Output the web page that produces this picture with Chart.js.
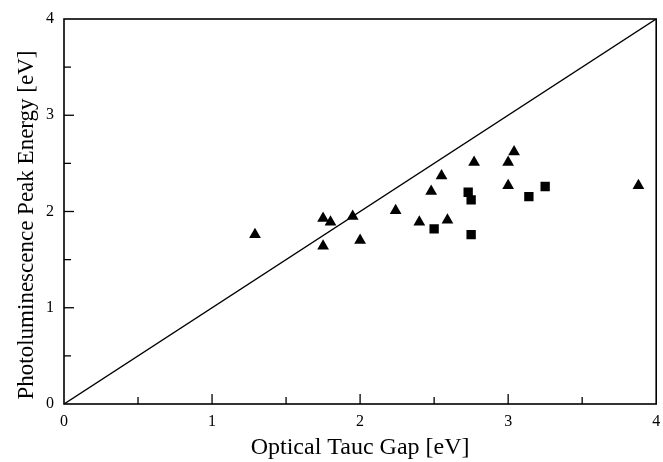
<!DOCTYPE html>
<html lang="en">
<head>
  <meta charset="UTF-8" />
  <title>PL Peak Energy vs Tauc Gap</title>
  <script src="https://cdn.jsdelivr.net/npm/chart.js"></script>
  <style>
    html, body { margin: 0; padding: 0; background: #fff; }
    #wrap { width: 663px; height: 462px; }
  </style>
</head>
<body>
<div id="wrap"><canvas id="plChart" width="663" height="462"></canvas></div>
<script>
  // triangles
  const triGap = [1.29, 1.75, 1.80, 1.75, 1.95, 2.00, 2.24, 2.40, 2.48, 2.55, 2.59, 2.77, 3.04, 3.00, 3.00, 3.88];
  const triPL  = [1.76, 1.93, 1.89, 1.64, 1.95, 1.70, 2.01, 1.89, 2.21, 2.37, 1.91, 2.51, 2.62, 2.51, 2.27, 2.27];
  // squares
  const sqGap = [2.50, 2.73, 2.75, 2.75, 3.14, 3.25];
  const sqPL  = [1.82, 2.20, 2.12, 1.76, 2.155, 2.26];
  // y = x reference line
  const lineX = [0, 4];
  const lineY = [0, 4];
  const axisMin = 0, axisMax = 4;
  const xTitle = "Optical Tauc Gap [eV]";
  const yTitle = "Photoluminescence Peak Energy [eV]";

  const serif = "'Liberation Serif', 'DejaVu Serif', serif";

  const toPts = (xs, ys) => xs.map((x, i) => ({ x: x, y: ys[i] }));

  // inward ticks every 0.5 on bottom and left axes, frame, y title
  const inwardTicks = {
    id: "inwardTicks",
    afterDraw(chart) {
      const { ctx, chartArea, scales } = chart;
      ctx.save();
      ctx.strokeStyle = "#000";
      ctx.lineWidth = 1.3;
      for (let v = 0.5; v < axisMax; v += 0.5) {
        const len = Number.isInteger(v) ? 10 : 7;
        const px = scales.x.getPixelForValue(v);
        ctx.beginPath();
        ctx.moveTo(px, chartArea.bottom);
        ctx.lineTo(px, chartArea.bottom - len);
        ctx.stroke();
        const py = scales.y.getPixelForValue(v);
        ctx.beginPath();
        ctx.moveTo(chartArea.left, py);
        ctx.lineTo(chartArea.left + len, py);
        ctx.stroke();
      }
      ctx.lineWidth = 1.6;
      ctx.strokeRect(chartArea.left, chartArea.top, chartArea.right - chartArea.left, chartArea.bottom - chartArea.top);

      // y title, sitting a bit below the axis middle like the original
      ctx.translate(33, 225);
      ctx.rotate(-Math.PI / 2);
      ctx.fillStyle = "#000";
      ctx.font = "23px " + serif;
      ctx.textAlign = "center";
      ctx.textBaseline = "alphabetic";
      ctx.fillText(yTitle, 0, 0);
      ctx.restore();
    }
  };

  new Chart(document.getElementById("plChart").getContext("2d"), {
    type: "scatter",
    data: {
      datasets: [
        {
          type: "line",
          data: toPts(lineX, lineY),
          borderColor: "#000",
          borderWidth: 1.4,
          pointRadius: 0,
          fill: false
        },
        {
          data: toPts(triGap, triPL),
          pointStyle: "triangle",
          pointRadius: 6.8,
          backgroundColor: "#000",
          borderColor: "#000",
          borderWidth: 0
        },
        {
          data: toPts(sqGap, sqPL),
          pointStyle: "rect",
          pointRadius: 6.6,
          backgroundColor: "#000",
          borderColor: "#000",
          borderWidth: 0
        }
      ]
    },
    options: {
      responsive: false,
      animation: false,
      layout: { padding: { left: 0, right: 6, top: 19, bottom: 0 } },
      plugins: { legend: { display: false }, tooltip: { enabled: false } },
      scales: {
        x: {
          type: "linear",
          min: axisMin,
          max: axisMax,
          afterFit: (s) => { s.height = 58; },
          grid: { display: false },
          border: { display: false },
          ticks: { stepSize: 1, color: "#000", padding: 0, font: { family: serif, size: 16 } },
          title: { display: true, text: xTitle, color: "#000", padding: { top: 4, bottom: 0 }, font: { family: serif, size: 24 } }
        },
        y: {
          type: "linear",
          min: axisMin,
          max: axisMax,
          afterFit: (s) => { s.width = 64; },
          grid: { display: false },
          border: { display: false },
          ticks: { stepSize: 1, color: "#000", padding: 2, font: { family: serif, size: 16 } },
          title: { display: false }
        }
      }
    },
    plugins: [inwardTicks]
  });
</script>
</body>
</html>
